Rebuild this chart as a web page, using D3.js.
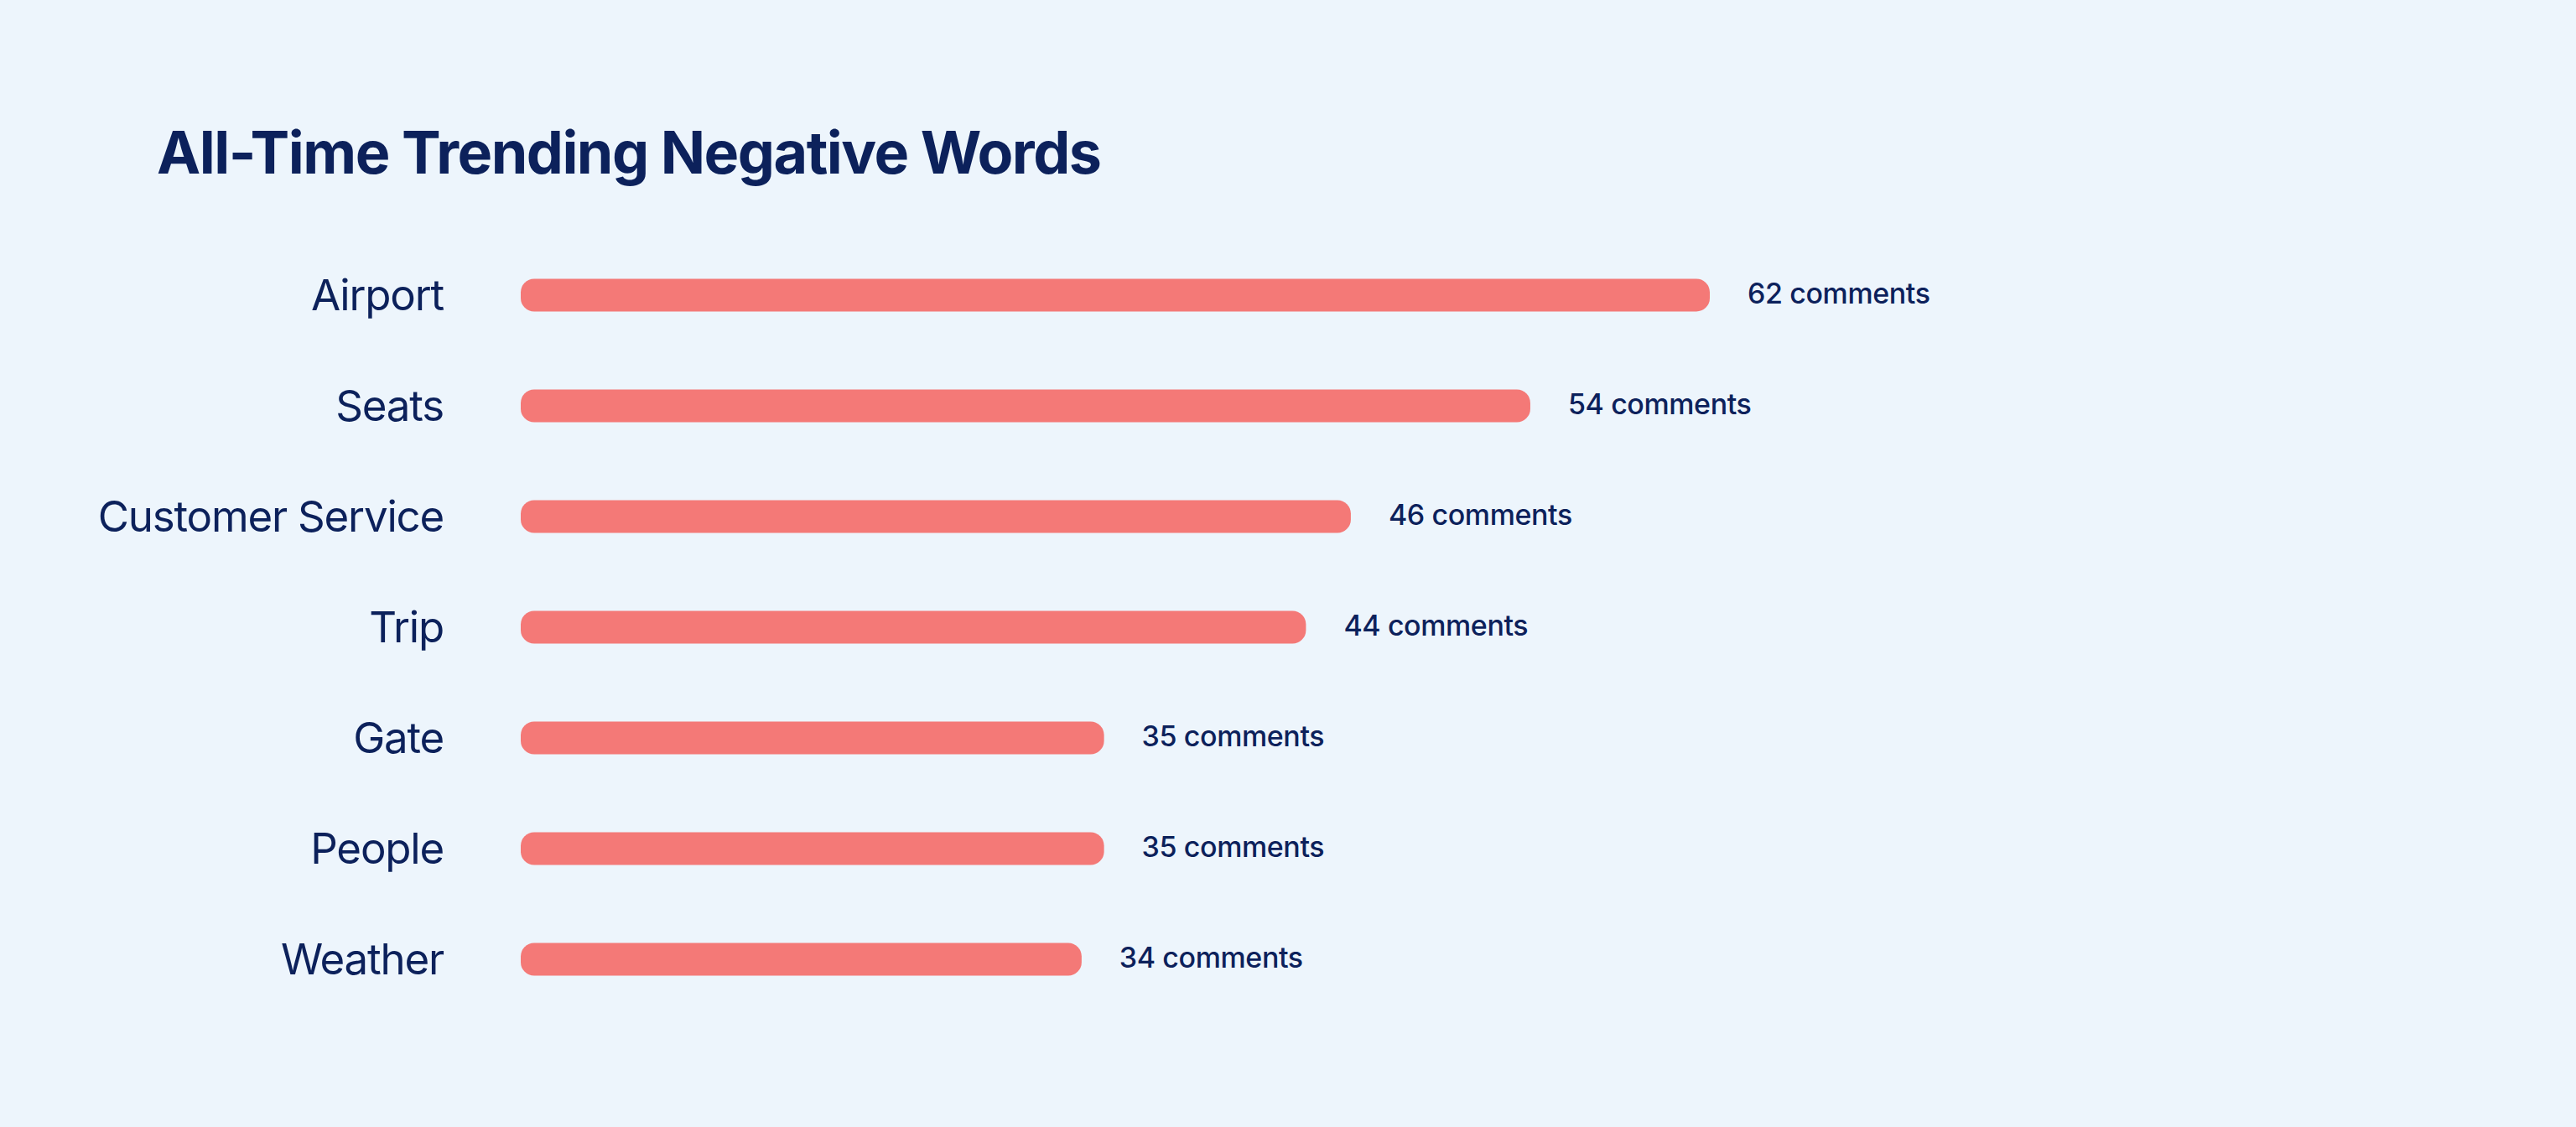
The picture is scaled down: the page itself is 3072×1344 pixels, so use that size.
<!DOCTYPE html>
<html>
<head>
<meta charset="utf-8">
<script src="https://cdn.jsdelivr.net/npm/d3@7"></script>
<style>
  html, body { margin: 0; padding: 0; background: #edf5fc; }
  svg { display: block; }
</style>
</head>
<body>
<div id="chart"></div>
<script>
// data
var words = ["Airport", "Seats", "Customer Service", "Trip", "Gate", "People", "Weather"];
var comments = [62, 54, 46, 44, 35, 35, 34];
var valueLabels = ["62 comments", "54 comments", "46 comments", "44 comments", "35 comments", "35 comments", "34 comments"];
var title = "All-Time Trending Negative Words";

var width = 3072;
var height = 1344;
var navy = "#0c215b";
var barColour = "#f47977";
var barHeight = 39;

var svg = d3.select("#chart").append("svg")
    .attr("width", width).attr("height", height)
    .style("font-family", "Inter, 'Noto Sans', sans-serif");

svg.append("rect").attr("width", width).attr("height", height).attr("fill", "#edf5fc");

svg.append("text")
    .attr("x", 187).attr("y", 207)
    .attr("fill", navy)
    .attr("font-size", 70)
    .attr("font-weight", 700)
    .attr("letter-spacing", -1.5)
    .text(title);

var x = d3.scaleLinear().domain([9, 62]).range([621, 2039]);
var y = d3.scalePoint().domain(words).range([352, 1144]);

var rows = words.map(function(w, i) {
    return { word: w, value: comments[i], label: valueLabels[i] };
});

svg.selectAll(".bar").data(rows)
    .enter().append("rect").attr("class", "bar")
    .attr("x", x.range()[0])
    .attr("y", function(d) { return y(d.word) - barHeight / 2; })
    .attr("width", function(d) { return x(d.value) - x.range()[0]; })
    .attr("height", barHeight)
    .attr("rx", 16).attr("ry", 16)
    .attr("fill", barColour);

svg.selectAll(".word").data(rows)
    .enter().append("text").attr("class", "word")
    .attr("x", 529)
    .attr("y", function(d) { return y(d.word); })
    .attr("dy", "0.36em")
    .attr("text-anchor", "end")
    .attr("fill", navy)
    .attr("font-size", 51)
    .attr("letter-spacing", -1.2)
    .text(function(d) { return d.word; });

svg.selectAll(".value").data(rows)
    .enter().append("text").attr("class", "value")
    .attr("x", function(d) { return x(d.value) + 45; })
    .attr("y", function(d) { return y(d.word); })
    .attr("dy", "0.3em")
    .attr("fill", navy)
    .attr("font-size", 34)
    .attr("font-weight", 500)
    .attr("letter-spacing", -0.4)
    .text(function(d) { return d.label; });
</script>
</body>
</html>
